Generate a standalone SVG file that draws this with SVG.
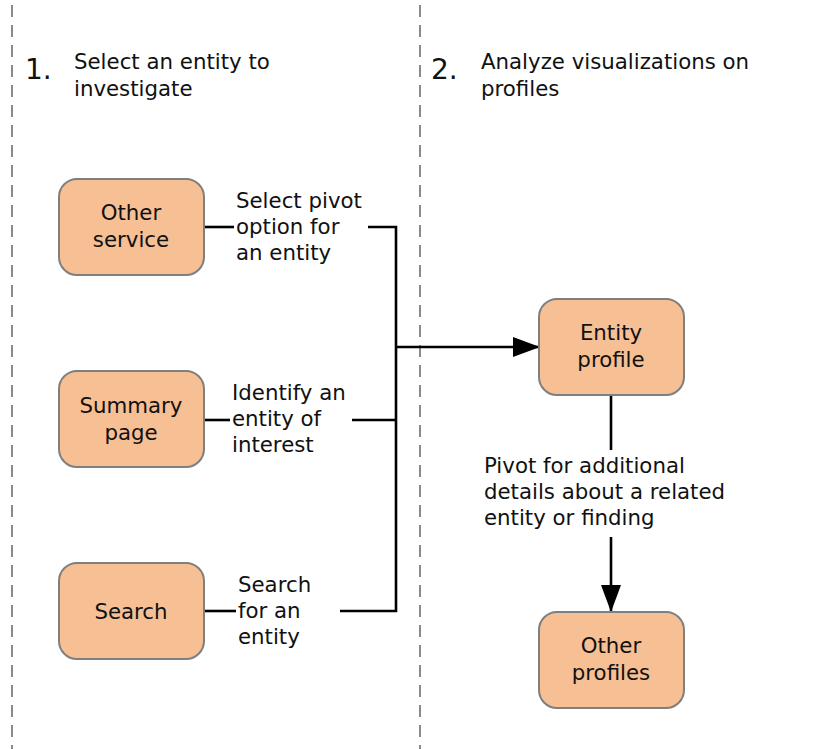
<svg xmlns="http://www.w3.org/2000/svg" width="818" height="749" viewBox="0 0 818 749">
<style>
text{font-family:"DejaVu Sans","Liberation Sans",sans-serif;font-size:21.3px;fill:#111}
.c{text-anchor:middle}
.num{font-size:28px}
.box{fill:#F7BF94;stroke:#7f7f7f;stroke-width:2}
.ln{fill:none;stroke:#000;stroke-width:2.6}
.sep{stroke:#8a8a8a;stroke-width:2;stroke-dasharray:12 8}
</style>
<defs>
<marker id="ah" markerWidth="27" markerHeight="20" refX="26" refY="10" orient="auto" markerUnits="userSpaceOnUse">
<path d="M0,0 L27,10 L0,20 Z" fill="#000"/>
</marker>
</defs>
<rect width="818" height="749" fill="#fff"/>
<g id="separators">
<line class="sep" x1="12" y1="5" x2="12" y2="749"/>
<line class="sep" x1="420" y1="5" x2="420" y2="749"/>
</g>
<g id="heading1">
<text class="num" x="25" y="79">1.</text>
<text x="74" y="69">Select an entity to</text>
<text x="74" y="96">investigate</text>
</g>
<g id="heading2">
<text class="num" x="431" y="79">2.</text>
<text x="481" y="69">Analyze visualizations on</text>
<text x="481" y="96">profiles</text>
</g>
<g id="connectors">
<path class="ln" d="M204,227 H234"/>
<path class="ln" d="M368,227 H396 V611 H340"/>
<path class="ln" d="M204,420 H230"/>
<path class="ln" d="M352,420 H396"/>
<path class="ln" d="M204,611 H236"/>
<path class="ln" d="M396,347 H539" marker-end="url(#ah)"/>
<path class="ln" d="M611,395 V450"/>
<path class="ln" d="M611,537 V611" marker-end="url(#ah)"/>
<text x="236" y="208">Select pivot</text>
<text x="236" y="234">option for</text>
<text x="236" y="260">an entity</text>
<text x="232" y="400">Identify an</text>
<text x="232" y="426">entity of</text>
<text x="232" y="452">interest</text>
<text x="238" y="592">Search</text>
<text x="238" y="618">for an</text>
<text x="238" y="644">entity</text>
<text x="484" y="473">Pivot for additional</text>
<text x="484" y="499">details about a related</text>
<text x="484" y="525">entity or finding</text>
</g>
<g id="other-service">
<rect class="box" x="59" y="179" width="145" height="96" rx="18"/>
<text class="c" x="131" y="220">Other</text>
<text class="c" x="131" y="247">service</text>
</g>
<g id="summary-page">
<rect class="box" x="59" y="371" width="145" height="96" rx="18"/>
<text class="c" x="131" y="413">Summary</text>
<text class="c" x="131" y="440">page</text>
</g>
<g id="search">
<rect class="box" x="59" y="563" width="145" height="96" rx="18"/>
<text class="c" x="131" y="619">Search</text>
</g>
<g id="entity-profile">
<rect class="box" x="539" y="299" width="145" height="96" rx="18"/>
<text class="c" x="611" y="340">Entity</text>
<text class="c" x="611" y="367">profile</text>
</g>
<g id="other-profiles">
<rect class="box" x="539" y="612" width="145" height="96" rx="18"/>
<text class="c" x="611" y="653">Other</text>
<text class="c" x="611" y="680">profiles</text>
</g>
</svg>
